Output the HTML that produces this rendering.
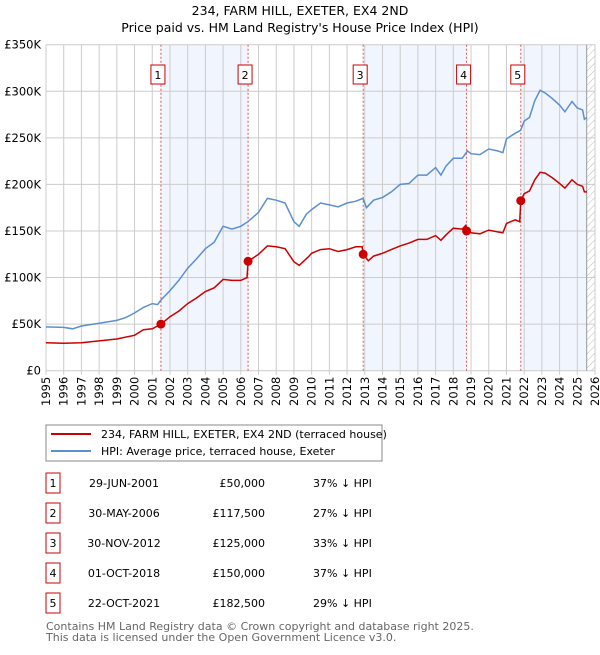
<!DOCTYPE html>
<html><head><meta charset="utf-8"><style>
body{margin:0;background:#fff;font-family:"Liberation Sans","DejaVu Sans",sans-serif;}
svg text{font-family:"DejaVu Sans","Liberation Sans",sans-serif;}
</style></head><body>
<svg id="c" width="600" height="650" xmlns="http://www.w3.org/2000/svg">
<defs><pattern id="hatch" width="5" height="5" patternUnits="userSpaceOnUse" patternTransform="rotate(45)"><line x1="0" y1="0" x2="0" y2="5" stroke="#bbb" stroke-width="1"/></pattern></defs>
<text x="300" y="15" text-anchor="middle" font-size="12.5">234, FARM HILL, EXETER, EX4 2ND</text>
<text x="300" y="32" text-anchor="middle" font-size="12.5">Price paid vs. HM Land Registry's House Price Index (HPI)</text>
<g id="plot"></g>
<g>
<rect x="46" y="425" width="336" height="36" fill="#fff" stroke="#888"/>
<line x1="51" y1="434" x2="91" y2="434" stroke="#cc0000" stroke-width="2"/>
<text x="101" y="438" font-size="11">234, FARM HILL, EXETER, EX4 2ND (terraced house)</text>
<line x1="51" y1="451" x2="91" y2="451" stroke="#5b8fd0" stroke-width="2"/>
<text x="101" y="455" font-size="11">HPI: Average price, terraced house, Exeter</text>
</g>
<g id="tbl"></g>
<text x="46" y="630" font-size="11" fill="#666">Contains HM Land Registry data © Crown copyright and database right 2025.</text>
<text x="46" y="641" font-size="11" fill="#666">This data is licensed under the Open Government Licence v3.0.</text>
</svg>
<script>
const hpiYears=[1995,1996,1996.5,1997,1998,1999,1999.5,2000,2000.5,2001,2001.3,2001.5,2002,2002.5,2003,2003.5,2004,2004.5,2005,2005.5,2006,2006.4,2007,2007.5,2008,2008.5,2009,2009.3,2009.7,2010,2010.5,2011,2011.5,2012,2012.5,2012.9,2013.1,2013.5,2014,2014.5,2015,2015.5,2016,2016.5,2017,2017.3,2017.6,2018,2018.5,2018.8,2019,2019.5,2020,2020.5,2020.8,2021,2021.5,2021.8,2022,2022.3,2022.6,2022.9,2023.2,2023.6,2024,2024.3,2024.7,2025,2025.3,2025.4,2025.55];
const hpiValues=[47,46.5,45,48,51,54,57,62,68,72,71,76,86,97,110,120,131,138,155,152,155,160,170,185,183,180,160,155,168,173,180,178,176,180,182,185,175,183,186,192,200,201,210,210,218,210,220,228,228,236,233,232,238,236,234,249,255,258,268,272,290,301,298,292,285,278,289,282,280,270,272];
const propYears=[1995,1996,1997,1998,1999,2000,2000.5,2001,2001.5,2002,2002.5,2003,2003.5,2004,2004.5,2005,2005.5,2006,2006.35,2006.42,2007,2007.5,2008,2008.5,2009,2009.3,2009.8,2010,2010.5,2011,2011.5,2012,2012.5,2012.85,2012.92,2013.2,2013.5,2014,2014.5,2015,2015.5,2016,2016.5,2017,2017.3,2017.6,2018,2018.5,2018.7,2018.75,2019,2019.5,2020,2020.5,2020.8,2021,2021.5,2021.75,2021.81,2022,2022.3,2022.6,2022.9,2023.2,2023.6,2024,2024.3,2024.7,2025,2025.3,2025.4,2025.55];
const propValues=[30,29.5,30,32,34,38,44,45,50,58,64,72,78,85,89,98,97,97,100,117.5,125,134,133,131,117,113,122,126,130,131,128,130,133,133,125,118,123,126,130,134,137,141,141,145,140,146,153,152,156,150,148,147,151,149,148,158,162,160,182.5,190,193,205,213,212,207,201,196,205,200,198,192,192];
const saleYears=[2001.49,2006.41,2012.91,2018.75,2021.81];
const saleValues=[50,117.5,125,150,182.5];
const saleDates=["29-JUN-2001","30-MAY-2006","30-NOV-2012","01-OCT-2018","22-OCT-2021"];
const salePrices=["£50,000","£117,500","£125,000","£150,000","£182,500"];
const salePcts=["37% ↓ HPI","27% ↓ HPI","33% ↓ HPI","37% ↓ HPI","29% ↓ HPI"];
const yTicks=[0,50,100,150,200,250,300,350];
const yLabels=["£0","£50K","£100K","£150K","£200K","£250K","£300K","£350K"];
const xTicks=[1995,1996,1997,1998,1999,2000,2001,2002,2003,2004,2005,2006,2007,2008,2009,2010,2011,2012,2013,2014,2015,2016,2017,2018,2019,2020,2021,2022,2023,2024,2025,2026];

const L=46,R=595,T=44.7,B=370.7,x0=1995,x1=2026,yMax=350,dataEnd=2025.53;
const X=v=>L+(v-x0)/(x1-x0)*(R-L);
const Y=v=>B-v/yMax*(B-T);
const NS="http://www.w3.org/2000/svg";
function mk(p,tag,at){const e=document.createElementNS(NS,tag);for(const k in at)e.setAttribute(k,at[k]);p.appendChild(e);return e;}
const g=document.getElementById('plot');
// shaded regions
const shadeStarts=[0,2,4];
shadeStarts.forEach(i=>{
 const a=saleYears[i],b=i+1<saleYears.length?saleYears[i+1]:dataEnd;
 const r=mk(g,'rect',{x:X(a),y:T,width:X(b)-X(a),height:B-T,fill:'#eef3fc',opacity:0.8});
 
 
});
const hr=mk(g,'rect',{x:X(dataEnd),y:T,width:R-X(dataEnd),height:B-T,fill:'url(#hatch)'});


// grid
xTicks.forEach((t,i)=>{
 const l=mk(g,'line',{x1:X(t),x2:X(t),y1:T,y2:B+4,stroke:'#ccc','stroke-width':1});
 
 
 const tx=mk(g,'text',{x:0,y:0,'font-size':11.5,'text-anchor':'end',transform:`translate(${X(t)+4},${B+6}) rotate(-90)`});
 tx.textContent=t;
 
 
});
yTicks.forEach((t,i)=>{
 const l=mk(g,'line',{x1:L,x2:R,y1:Y(t),y2:Y(t),stroke:'#ccc','stroke-width':1});
 
 
 const tx=mk(g,'text',{x:L-5,y:Y(t)+4,'font-size':11.5,'text-anchor':'end'});
 tx.textContent=yLabels[i];
 
 
});
const dl=mk(g,'line',{x1:X(dataEnd),x2:X(dataEnd),y1:T,y2:B,stroke:'#999','stroke-width':1});


// sale markers lines & boxes
saleYears.forEach((s,i)=>{
 const l=mk(g,'line',{x1:X(s),x2:X(s),y1:T,y2:B,stroke:'#e05050','stroke-width':1,'stroke-dasharray':'2,2'});
 
 
 const bx=mk(g,'rect',{x:X(s)-10,y:65,width:14,height:19,fill:'#fff',stroke:'#cc0000','stroke-width':1});
 
 
 const tx=mk(g,'text',{x:X(s)-3,y:79,'font-size':11,'text-anchor':'middle'});
 tx.textContent=i+1;
 
 
});
const pth=(xs,vs)=>xs.map((x,i)=>(i?'L':'M')+X(x).toFixed(1)+','+Y(vs[i]).toFixed(1)).join('');
const hp=mk(g,'path',{d:pth(hpiYears,hpiValues),fill:'none',stroke:'#5b8fd0','stroke-width':1.5});


const pp=mk(g,'path',{d:pth(propYears,propValues),fill:'none',stroke:'#cc0000','stroke-width':1.5});


saleYears.forEach((s,i)=>{
 const c=mk(g,'circle',{cx:X(s),cy:Y(saleValues[i]),r:4.5,fill:'#cc0000'});
 
 
});
// table
const tb=document.getElementById('tbl');
saleDates.forEach((d,i)=>{
 const y=483+i*30;
 const bx=mk(tb,'rect',{x:46,y:y-10,width:14,height:20,fill:'#fff',stroke:'#cc0000','stroke-width':1});
 
 
 const n=mk(tb,'text',{x:53,y:y+4,'font-size':11,'text-anchor':'middle'});n.textContent=i+1;
 
 
 const dt=mk(tb,'text',{x:124,y:y+4,'font-size':11,'text-anchor':'middle'});dt.textContent=d;
 
 
 const pr=mk(tb,'text',{x:265,y:y+4,'font-size':11,'text-anchor':'end'});pr.textContent=salePrices[i];
 
 
 const pc=mk(tb,'text',{x:313,y:y+4,'font-size':11});pc.textContent=salePcts[i];
 
 
});
</script>
</body></html>
